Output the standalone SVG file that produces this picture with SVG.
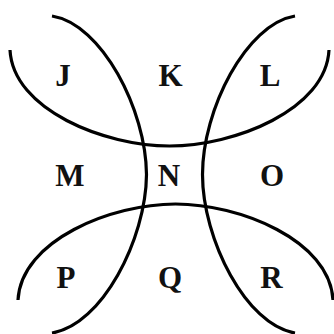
<svg xmlns="http://www.w3.org/2000/svg" width="334" height="334" viewBox="0 0 334 334">
<style>
.c{fill:none;stroke:#000;stroke-width:3.2;stroke-linecap:butt}
.t{font-family:"Liberation Serif","Times New Roman",serif;font-weight:bold;font-size:31px;fill:#111;text-anchor:middle}
</style>
<rect width="334" height="334" fill="#fff"/>
<g id="curves">
<path class="c" d="M10,50 C13,110 105,146 169.5,146 C234,146 326,110 329,50"/>
<path class="c" d="M18,300 C21,240 112,204 175.5,204 C239,204 330,240 333,300"/>
<path class="c" d="M52,16 C102,24 146,110 146.5,174.5 C146,239 102,325 52,333"/>
<path class="c" d="M295,16 C246,24 202.5,110 202.5,174.5 C202.5,239 246,325 295,333"/>
</g>
<g id="J"><text class="t" x="63" y="86">J</text></g>
<g id="K"><text class="t" x="170.5" y="86">K</text></g>
<g id="L"><text class="t" x="270" y="86">L</text></g>
<g id="M"><text class="t" x="70" y="186">M</text></g>
<g id="N"><text class="t" x="169" y="186">N</text></g>
<g id="O"><text class="t" x="272" y="186">O</text></g>
<g id="P"><text class="t" x="66" y="287.5">P</text></g>
<g id="Q"><text class="t" x="170" y="287.5">Q</text></g>
<g id="R"><text class="t" x="271.5" y="287.5">R</text></g>
</svg>
